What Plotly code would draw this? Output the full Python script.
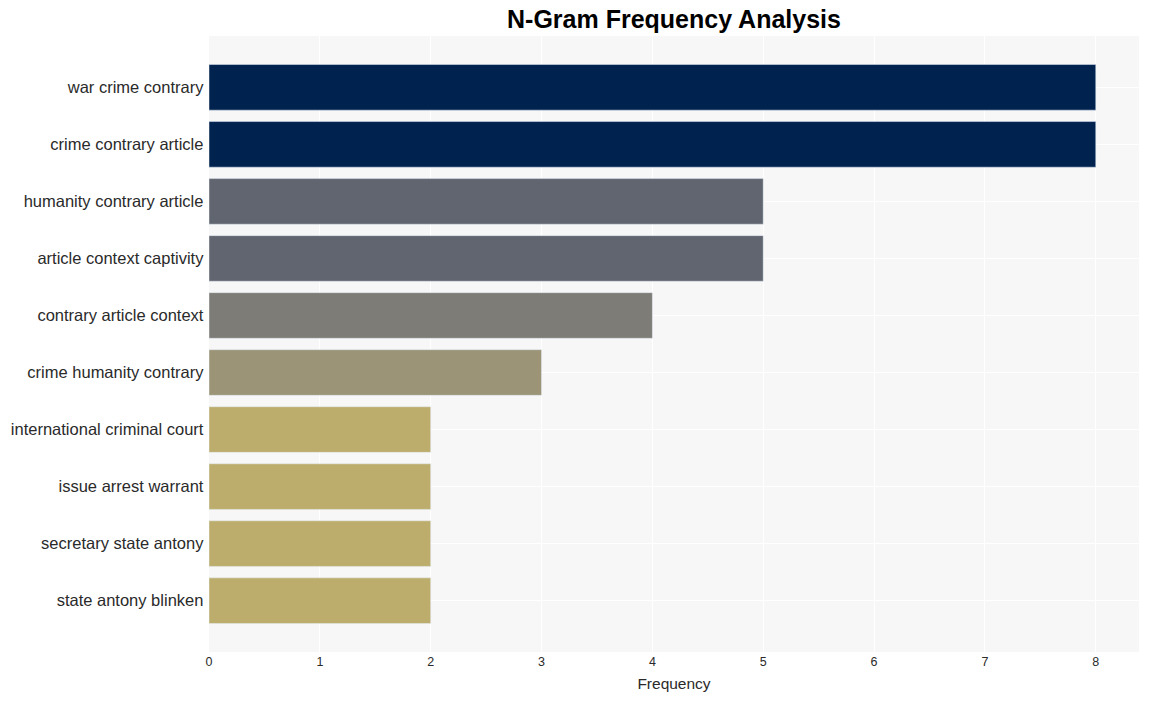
import plotly.graph_objects as go

ngrams = [
    "war crime contrary",
    "crime contrary article",
    "humanity contrary article",
    "article context captivity",
    "contrary article context",
    "crime humanity contrary",
    "international criminal court",
    "issue arrest warrant",
    "secretary state antony",
    "state antony blinken",
]
frequency = [8, 8, 5, 5, 4, 3, 2, 2, 2, 2]

fig = go.Figure(
    go.Bar(
        x=frequency,
        y=ngrams,
        orientation="h",
        marker=dict(color=frequency, colorscale="Cividis_r", cmin=0, cmax=8),
    )
)

fig.update_layout(
    width=1149,
    height=701,
    margin=dict(l=209, r=10, t=36, b=49),
    title=dict(
        text="<b>N-Gram Frequency Analysis</b>",
        x=0.5,
        xref="paper",
        xanchor="center",
        y=0.972,
        yanchor="middle",
        font=dict(family="Arial, Liberation Sans", size=25, color="black"),
    ),
    font=dict(family="Arial, Liberation Sans", color="#2a2a2a"),
    plot_bgcolor="#f7f7f7",
    paper_bgcolor="white",
    bargap=0.2,
    xaxis=dict(
        title=dict(text="Frequency", font=dict(size=15.5), standoff=10),
        tickfont=dict(size=12.5),
        gridcolor="white",
        zeroline=False,
        range=[0, 8.39],
    ),
    yaxis=dict(
        range=[9.9, -0.9],
        tickfont=dict(size=16.5),
        gridcolor="white",
        ticksuffix=" ",
    ),
)

fig.write_html("out.html")
